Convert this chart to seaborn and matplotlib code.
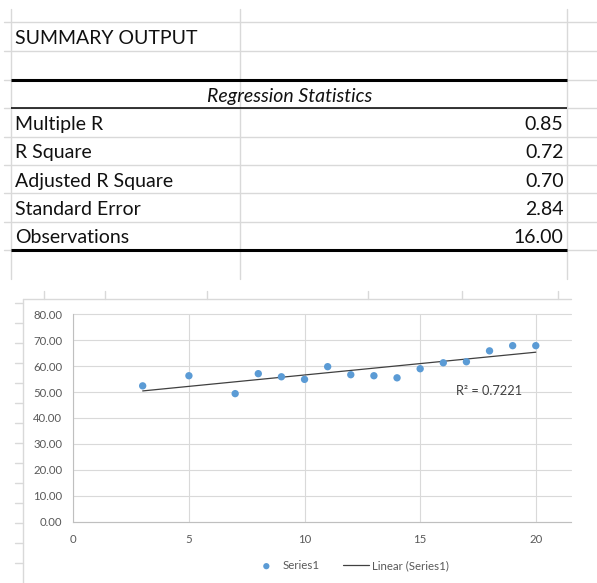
import numpy as np
import pandas as pd
import matplotlib
matplotlib.use("Agg")
import matplotlib.pyplot as plt
import seaborn as sns

# ---------------- data ----------------
stat_labels = ["Multiple R", "R Square", "Adjusted R Square", "Standard Error", "Observations"]
stat_values = ["0.85", "0.72", "0.70", "2.84", "16.00"]
x_vals = [3, 5, 7, 8, 9, 10, 11, 12, 13, 14, 15, 16, 17, 18, 19, 20]
y_vals = [52.4, 56.3, 49.4, 57.1, 55.9, 54.9, 59.8, 56.7, 56.3, 55.5, 59.0, 61.3, 61.7, 65.9, 67.9, 67.9]
y_ticks = [0, 10, 20, 30, 40, 50, 60, 70, 80]
x_ticks = [0, 5, 10, 15, 20]
r2_label = "R² = 0.7221"

df = pd.DataFrame({"x": x_vals, "y": y_vals})

sns.set_style("white")
plt.rcParams["font.family"] = ["Lato", "DejaVu Sans"]

W, H = 597, 583
fig = plt.figure(figsize=(W / 100, H / 100), dpi=100)
fig.patch.set_facecolor("white")

# background "spreadsheet" axes in pixel coordinates
bg = fig.add_axes([0, 0, 1, 1])
bg.set_xlim(0, W)
bg.set_ylim(H, 0)
bg.axis("off")
bg.set_zorder(0)

grid_c = "#d9d9d9"
# vertical sheet lines (table area)
for xv in [11.4, 240, 567.4]:
    bg.plot([xv, xv], [9, 279], color=grid_c, lw=1.0)
# horizontal sheet lines
for yv in [22.3, 50.7, 80, 108.3, 136.7, 165, 193.3, 221.7, 250]:
    bg.plot([3.8, W], [yv, yv], color=grid_c, lw=1.0)
# table borders
bg.plot([11.4, 567.4], [80, 80], color="black", lw=2.2, solid_capstyle="butt")
bg.plot([11.4, 567.4], [108.3, 108.3], color="black", lw=1.1, solid_capstyle="butt")
bg.plot([11.4, 567.4], [250, 250], color="black", lw=2.2, solid_capstyle="butt")

tfs = 14.0
bg.text(15.0, 44.3, "SUMMARY OUTPUT", fontsize=tfs, color="#111111", va="baseline", ha="left")
bg.text(289.4, 102.0, "Regression Statistics", fontsize=tfs, color="#111111",
        va="baseline", ha="center", style="italic")
row_base = [130.0, 158.3, 186.7, 215.0, 243.3]
for lab, val, yb in zip(stat_labels, stat_values, row_base):
    bg.text(15.0, yb, lab, fontsize=tfs, color="#111111", va="baseline", ha="left")
    bg.text(563.5, yb, val, fontsize=tfs, color="#111111", va="baseline", ha="right")

# sheet lines peeking around the chart
for xv in [43.8, 104.7, 206.8, 367.5, 462, 557.5]:
    bg.plot([xv, xv], [291, 299.3], color=grid_c, lw=1.0)
for k in range(14):
    yv = 302.7 + 20 * k
    bg.plot([15, 23.3], [yv, yv], color=grid_c, lw=1.0)
# chart area border
bg.plot([23.3, 571], [299.3, 299.3], color=grid_c, lw=1.0)
bg.plot([23.3, 23.3], [299.3, H], color=grid_c, lw=1.0)

# ---------------- chart ----------------
left, right, top, bottom = 73.3, 570.7, 314.3, 521.7
ax = fig.add_axes([left / W, 1 - bottom / H, (right - left) / W, (bottom - top) / H])
ax.set_zorder(2)
ax.set_facecolor("white")

blue = "#5b9bd5"
sns.regplot(data=df, x="x", y="y", ax=ax, scatter=False, ci=None, truncate=True,
            line_kws={"color": "#404040", "lw": 0.9, "zorder": 3}, label="Linear (Series1)")
sns.scatterplot(data=df, x="x", y="y", ax=ax, color=blue, s=28, edgecolor="none",
                zorder=4, label="Series1")
if ax.get_legend() is not None:
    ax.get_legend().remove()

ax.set_xlim(0, 21.51)
ax.set_ylim(0, 80)
ax.set_xticks(x_ticks)
ax.set_yticks(y_ticks)
ax.set_yticklabels([f"{v:.2f}" for v in y_ticks])
ax.set_xticklabels([str(v) for v in x_ticks])
ax.grid(True, color=grid_c, lw=0.8)
ax.set_axisbelow(True)
for s in ["top", "right"]:
    ax.spines[s].set_visible(False)
for s in ["left", "bottom"]:
    ax.spines[s].set_color("#bfbfbf")
    ax.spines[s].set_linewidth(0.8)
ax.tick_params(axis="both", length=0, labelsize=8.2, labelcolor="#595959")
ax.tick_params(axis="y", pad=8)
ax.tick_params(axis="x", pad=9)
ax.set_xlabel("")
ax.set_ylabel("")
for t in ax.get_yticklabels() + ax.get_xticklabels():
    t.set_clip_on(False)
for gl in ax.get_ygridlines():
    gl.set_clip_on(False)

ax.text(456, 390.7, r2_label, transform=bg.transData, fontsize=9.2, color="#404040",
        va="center", ha="left", zorder=5)

h, l = ax.get_legend_handles_labels()
order = [l.index("Series1"), l.index("Linear (Series1)")]
leg = fig.legend([h[i] for i in order], [l[i] for i in order], loc="center",
                 bbox_to_anchor=(351 / W, 1 - 565.7 / H), ncol=2, frameon=False,
                 fontsize=8.3, handlelength=2.3, handletextpad=0.25, columnspacing=2.0,
                 markerscale=0.85)
for t in leg.get_texts():
    t.set_color("#595959")

fig.savefig("out.png", dpi=100, facecolor="white")
